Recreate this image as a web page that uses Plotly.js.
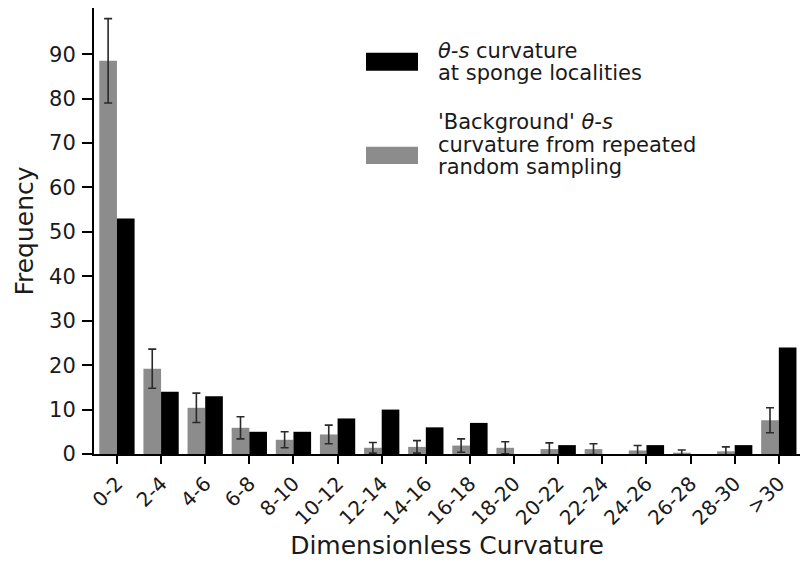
<!DOCTYPE html>
<html>
<head>
<meta charset="utf-8">
<script src="https://cdn.plot.ly/plotly-3.0.1.min.js"></script>
<style>html,body{margin:0;padding:0;background:#fff;}#chart{width:800px;height:562px;}</style>
</head>
<body>
<div id="chart"></div>
<script>
const categories = ["0-2","2-4","4-6","6-8","8-10","10-12","12-14","14-16","16-18","18-20","20-22","22-24","24-26","26-28","28-30",">30"];
const backgroundValues = [88.5, 19.2, 10.4, 5.9, 3.2, 4.4, 1.4, 1.6, 1.9, 1.4, 1.1, 1.1, 0.8, 0.3, 0.6, 7.6];
const backgroundErrors = [9.5, 4.4, 3.3, 2.5, 1.8, 2.1, 1.2, 1.4, 1.5, 1.35, 1.4, 1.2, 1.1, 0.6, 1.0, 2.8];
const spongeValues = [53, 14, 13, 5, 5, 8, 10, 6, 7, 0, 2, 0, 2, 0, 2, 24];
const yTicks = [0,10,20,30,40,50,60,70,80,90];
const spongeLegendLines = ["<i>θ-s</i> curvature", "at sponge localities"];
const backgroundLegendLines = ["'Background' <i>θ-s</i>", "curvature from repeated", "random sampling"];

const FONT = "DejaVu Sans, sans-serif";
const TXT = "#1a1a1a";
const GRAY = "#8c8c8c";

const traces = [
  {
    type: "bar", name: "'Background' θ-s curvature from repeated random sampling", x: categories, y: backgroundValues,
    marker: {color: GRAY, line: {width: 0}},
    error_y: {type: "data", array: backgroundErrors, visible: true, color: "#2a2a2a", thickness: 1.6, width: 4},
    showlegend: false
  },
  {
    type: "bar", name: "θ-s curvature at sponge localities", x: categories, y: spongeValues,
    marker: {color: "#000000", line: {width: 0}},
    showlegend: false
  }
];

// plot area in pixels: x 94..800, y 8..454
const L = 94, R = 800, T = 8, B = 454;
const px = v => (v - L) / (R - L);
const py = v => (B - v) / (B - T);

const legendText = (lines, centers) => lines.map((t, i) => ({
  xref: "paper", yref: "paper", x: px(436), y: py(centers[i]), xanchor: "left", yanchor: "middle",
  align: "left", showarrow: false, text: t, font: {size: 21, family: FONT, color: TXT}
}));

const layout = {
  width: 800, height: 562,
  margin: {l: L, r: 800 - R, t: T, b: 562 - B},
  paper_bgcolor: "#ffffff", plot_bgcolor: "#ffffff",
  font: {family: FONT, color: TXT, size: 21},
  barmode: "group", bargap: 0.2, bargroupgap: 0,
  xaxis: {
    type: "category", range: [-0.52, 15.48],
    tickangle: -45, tickfont: {size: 20, family: FONT, color: TXT},
    showline: true, linecolor: "#000", linewidth: 2,
    ticks: "outside", ticklen: 8, tickwidth: 2, tickcolor: "#000",
    showgrid: false, zeroline: false, automargin: false,
    title: {text: "Dimensionless Curvature", font: {size: 25, family: FONT, color: TXT}, standoff: 8}
  },
  yaxis: {
    range: [0, 100.4], tickvals: yTicks, ticktext: yTicks.map(String),
    tickfont: {size: 21, family: FONT, color: TXT},
    showline: true, linecolor: "#000", linewidth: 2,
    ticks: "outside", ticklen: 10, tickwidth: 2, tickcolor: "#000",
    ticklabelstandoff: 2,
    showgrid: false, zeroline: false, automargin: false,
    title: {text: "Frequency", font: {size: 25, family: FONT, color: TXT}, standoff: 8}
  },
  shapes: [
    {type: "rect", xref: "paper", yref: "paper", x0: px(366), x1: px(418), y0: py(70.7), y1: py(52.7), fillcolor: "#000", line: {width: 0}},
    {type: "rect", xref: "paper", yref: "paper", x0: px(366), x1: px(418), y0: py(164), y1: py(146.7), fillcolor: GRAY, line: {width: 0}}
  ],
  annotations: legendText(spongeLegendLines, [51, 73]).concat(legendText(backgroundLegendLines, [122, 145, 167]))
};

Plotly.newPlot("chart", traces, layout, {displayModeBar: false, staticPlot: true});
</script>
</body>
</html>
